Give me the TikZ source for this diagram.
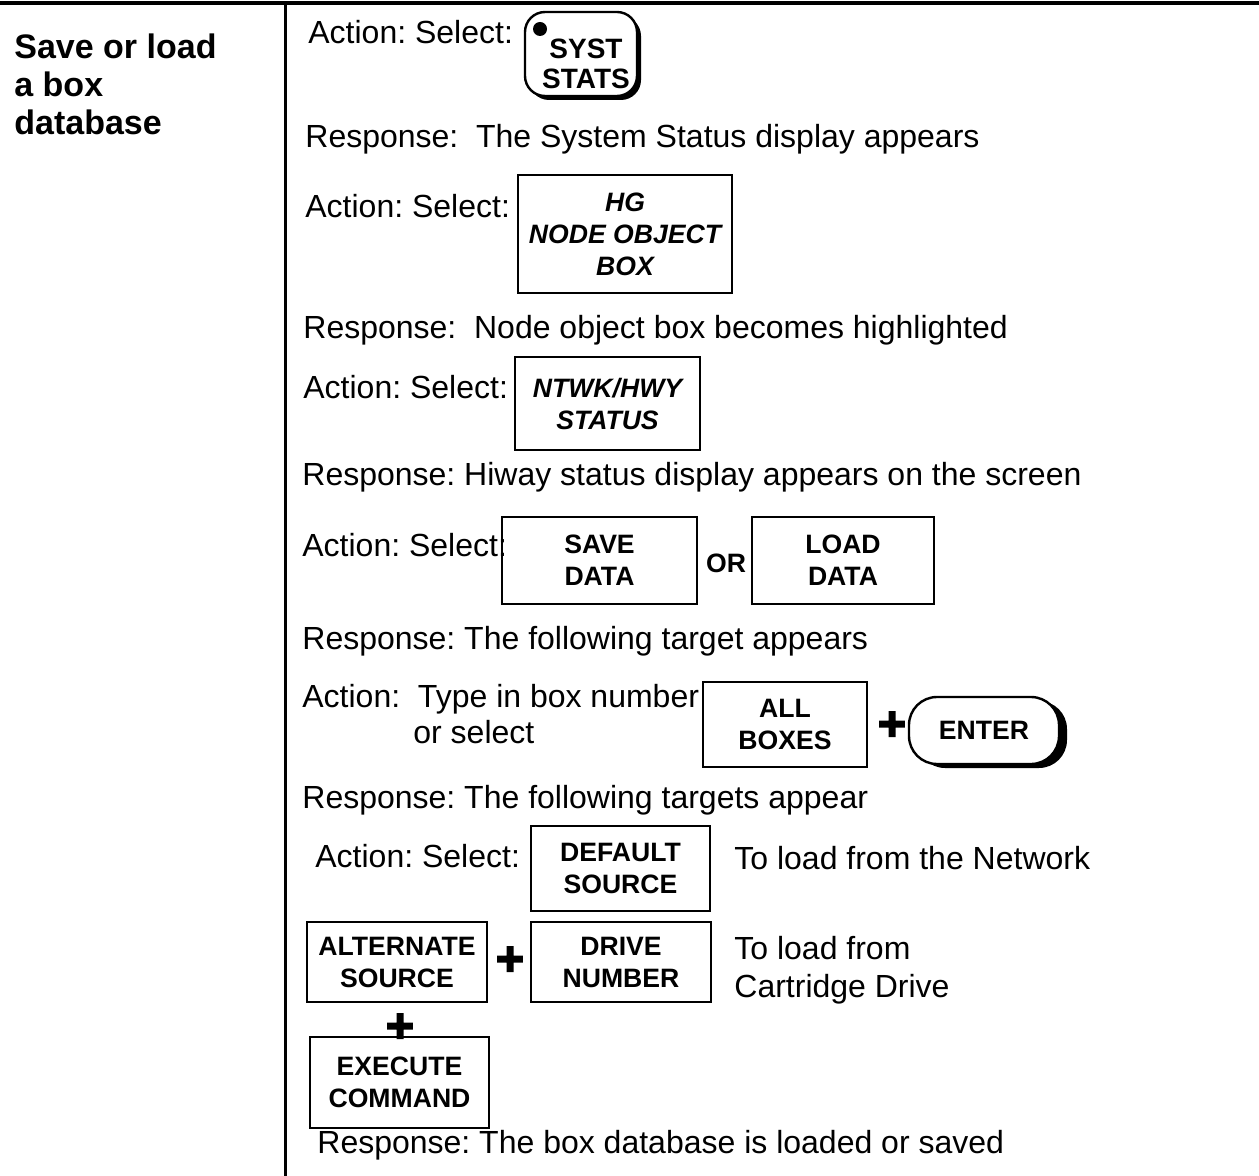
\documentclass[tikz,border=0pt]{standalone}
\usepackage{fontspec}
\setmainfont{Liberation Sans}
\newfontfamily\heavyfont[FakeBold=3.5]{Liberation Sans}
\usetikzlibrary{shadows}

\begin{document}
\frenchspacing
\begin{tikzpicture}[x=0.5pt, y=-0.5pt,
    % Define the styles for texts, keys and plus signs
    txt/.style={anchor=base west, inner sep=0pt, align=left, font=\fontsize{16}{19}\selectfont},
    title/.style={anchor=base west, inner sep=0pt, align=left, font=\fontsize{17}{19}\selectfont\bfseries},
    keybox/.style={draw, line width=1.2pt, align=center, inner sep=0pt, font=\fontsize{13.3}{16}\selectfont\bfseries},
    lowtext/.style={execute at begin node={\rule{0pt}{13.5pt}}},
    roundkey/.style 2 args={keybox, fill=white, rounded corners=#1,
        drop shadow={shadow xshift=#2, shadow yshift=-2pt, fill=black, opacity=1}},
    plus/.style={inner sep=0pt, font=\fontsize{24}{24}\selectfont\heavyfont\bfseries}
]
\useasboundingbox (0,0) rectangle (1259,1176);

% Define the frame corners
\coordinate (TL) at (0,3);
\coordinate (TR) at (1259,3);
\coordinate (MT) at (285,3);
\coordinate (MB) at (285,1176);

% Draw the frame
\draw[line width=2pt] (TL) -- (TR);
\draw[line width=1.5pt] (MT) -- (MB);

% Add the title
\node[title] (title) at (14,135) {Save or load\\a box\\database};

% Step 1
\node[txt] (a1) at (308,44) {Action: Select:};
\node[roundkey={10pt}{2pt}, minimum width=56pt, minimum height=42pt] (syst) at (581,54) {};
\node[circle, fill, inner sep=0pt, minimum size=7pt] (systdot) at (540,29) {};
\node[inner sep=0pt, align=center, font=\fontsize{14}{15}\selectfont\bfseries] (systtxt) at (586,64) {SYST\\STATS};
\node[txt] (r1) at (305,148) {Response:\ \ The System Status display appears};

% Step 2
\node[txt] (a2) at (305,218) {Action: Select:};
\node[keybox, font=\fontsize{13.3}{16}\selectfont\bfseries\itshape, minimum width=107pt, minimum height=59pt] (hg) at (625,234) {HG\\NODE OBJECT\\BOX};
\node[txt] (r2) at (303,339) {Response:\ \ Node object box becomes highlighted};

% Step 3
\node[txt] (a3) at (303,399) {Action: Select:};
\node[keybox, font=\fontsize{13.3}{16}\selectfont\bfseries\itshape, minimum width=92.5pt, minimum height=46.5pt] (ntwk) at (607.5,403.5) {NTWK/HWY\\STATUS};
\node[txt] (r3) at (302,486) {Response: Hiway status display appears on the screen};

% Step 4
\node[txt] (a4) at (302,557) {Action: Select:};
\node[keybox, lowtext, minimum width=97.5pt, minimum height=43.5pt] (save) at (599.5,560.5) {SAVE\\DATA};
\node[keybox, draw=none] (or) at (726,563) {OR};
\node[keybox, lowtext, minimum width=91pt, minimum height=43.5pt] (load) at (843,560.5) {LOAD\\DATA};
\node[txt] (r4) at (302,649) {Response: The following target appears};

% Step 5
\node[txt] (a5) at (302,707) {Action:\ \ Type in box number};
\node[txt] (a5b) at (413,743) {or select};
\node[keybox, minimum width=82pt, minimum height=42.5pt] (allbox) at (785,724.5) {ALL\\BOXES};
\node[plus] (plus1) at (892,726) {+};
\node[roundkey={14pt}{4pt}, minimum width=75pt, minimum height=33.5pt] (enter) at (984,730.5) {ENTER};
\node[txt] (r5) at (302,808) {Response: The following targets appear};

% Step 6
\node[txt] (a6) at (315,867) {Action: Select:};
\node[keybox, lowtext, minimum width=89.5pt, minimum height=42.5pt] (default) at (620.5,868.5) {DEFAULT\\SOURCE};
\node[txt] (net) at (734,869) {To load from the Network};
\node[keybox, minimum width=90pt, minimum height=40pt] (alt) at (397,962) {ALTERNATE\\SOURCE};
\node[plus] (plus2) at (510,961) {+};
\node[keybox, minimum width=90pt, minimum height=40pt] (drive) at (621,962) {DRIVE\\NUMBER};
\node[txt] (cart) at (734,997) {To load from\\Cartridge Drive};
\node[plus] (plus3) at (400,1028) {+};
\node[keybox, minimum width=89.5pt, minimum height=45.5pt] (exec) at (399.5,1082.5) {EXECUTE\\COMMAND};
\node[txt] (r6) at (317,1153) {Response: The box database is loaded or saved};

\end{tikzpicture}
\end{document}
